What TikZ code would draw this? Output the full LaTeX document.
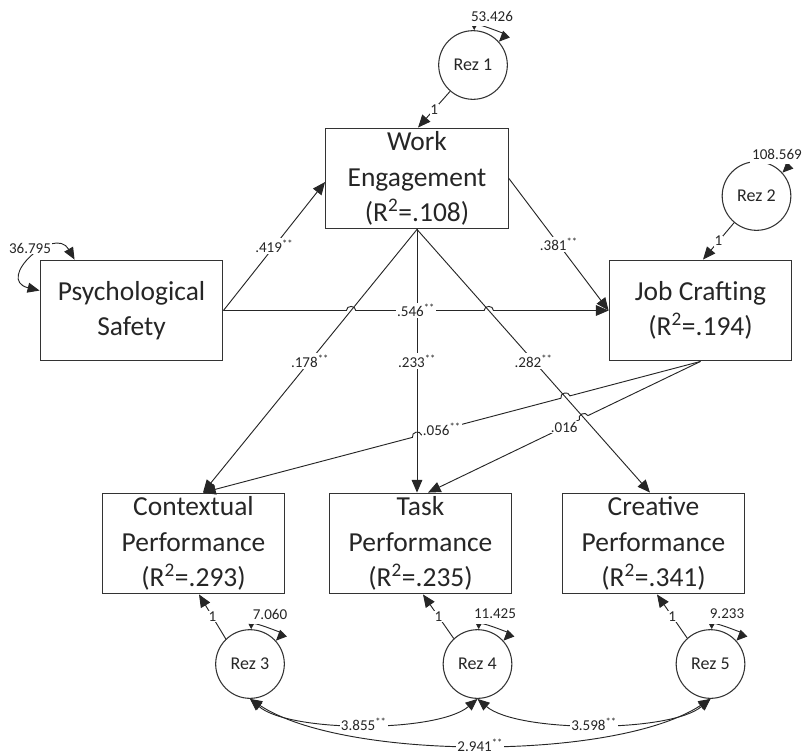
\documentclass[tikz,border=0pt]{standalone}
\usepackage{fontspec}
\setmainfont{Carlito}
\usetikzlibrary{arrows.meta,calc,intersections}
\begin{document}
\begin{tikzpicture}[x=0.75pt,y=-0.75pt,
  ln/.style={draw=black!85, line width=0.7pt},
  arr/.style={ln, -{Triangle[length=9.5pt,width=8pt]}},
  darr/.style={ln, {Triangle[length=9pt,width=7.5pt]}-{Triangle[length=9pt,width=7.5pt]}},
  varr/.style={ln, {Triangle[length=4pt,width=4pt]}-{Triangle[length=8pt,width=7pt]}},
  box/.style={draw=black!80, line width=0.9pt, minimum width=137pt, minimum height=75.5pt, inner sep=0pt, align=center, text=black!85, font=\fontsize{20.6}{26.6}\selectfont},
  rez/.style={circle, draw=black!80, line width=0.8pt, minimum size=51.5pt, inner sep=0pt, text=black!85, font=\fontsize{13.5}{15}\selectfont},
  lab/.style={fill=white, inner sep=1pt, text=black!85, font=\fontsize{11.3}{12}\selectfont},
  vlab/.style={lab, inner xsep=2pt, inner ysep=3.5pt},
  one/.style={fill=white, inner sep=0.5pt, text=black!85, font=\fontsize{11.3}{12}\selectfont}
]
\useasboundingbox (0,0) rectangle (802,754);

% boxes
\node[box] (we) at (417,178.5) {Work\\Engagement\\(R\textsuperscript{2}=.108)};
\node[box] (ps) at (131.5,310.5) {Psychological\\Safety};
\node[box] (jc) at (700.5,310.5) {Job Crafting\\(R\textsuperscript{2}=.194)};
\node[box] (cp) at (193.5,543.5) {Contextual\\Performance\\(R\textsuperscript{2}=.293)};
\node[box] (tp) at (420.5,543.5) {Task\\Performance\\(R\textsuperscript{2}=.235)};
\node[box] (crp) at (653.5,543.5) {Creative\\Performance\\(R\textsuperscript{2}=.341)};

% residuals
\node[rez] (r1) at (473,65) {Rez 1};
\node[rez] (r2) at (756.5,196) {Rez 2};
\node[rez] (r3) at (250,664) {Rez 3};
\node[rez] (r4) at (477.5,664) {Rez 4};
\node[rez] (r5) at (710.5,664) {Rez 5};

% anchor points
\coordinate (weS) at (we.south);
\coordinate (weL) at ($(we.west)+(0,3.5)$);
\coordinate (cpT) at ($(cp.north)+(9.5,0)$);
\coordinate (tpT1) at ($(tp.north)+(-3.5,0)$);
\coordinate (tpT2) at ($(tp.north)+(7.5,0)$);
\coordinate (crT) at ($(crp.north)+(-3.5,0)$);
\coordinate (jcB) at (jc.south);

% crossing points
\path[name path=pWEcp] (weS) -- (cpT);
\path[name path=pWEtp] (weS) -- (tpT1);
\path[name path=pWEcr] (weS) -- (crT);
\path[name path=pPSjc] (ps.east) -- (jc.west);
\path[name path=pJCcp] (jcB) -- (cpT);
\path[name path=pJCtp] (jcB) -- (tpT2);
\path[name intersections={of=pPSjc and pWEcp, by=h1}];
\path[name intersections={of=pPSjc and pWEcr, by=h2}];
\path[name intersections={of=pJCcp and pWEcr, by=h3}];
\path[name intersections={of=pJCcp and pWEtp, by=h4}];
\path[name intersections={of=pJCtp and pWEcr, by=h5}];

% straight paths
\draw[arr] (ps.east) -- (weL);
\draw[arr] (we.east) -- (jc.west);
\draw[arr] (weS) -- (cpT);
\draw[arr] (weS) -- (tpT1);
\draw[arr] (weS) -- (crT);

% paths with hops
\draw[arr] (ps.east) -- ($(h1)!3.5pt!(ps.east)$) to[bend left=90,looseness=1.5] ($(h1)!3.5pt!(jc.west)$)
  -- ($(h2)!3.5pt!(ps.east)$) to[bend left=90,looseness=1.5] ($(h2)!3.5pt!(jc.west)$) -- (jc.west);
\draw[arr] (jcB) -- ($(h3)!3.5pt!(jcB)$) to[bend right=90,looseness=1.5] ($(h3)!3.5pt!(cpT)$)
  -- ($(h4)!3.5pt!(jcB)$) to[bend right=90,looseness=1.5] ($(h4)!3.5pt!(cpT)$) -- (cpT);
\draw[arr] (jcB) -- ($(h5)!3.5pt!(jcB)$) to[bend right=90,looseness=1.5] ($(h5)!3.5pt!(tpT2)$) -- (tpT2);

% path labels
\node[lab] (l1) at ($(ps.east)!0.5!(weL)$) {.419\textsuperscript{**}};
\node[lab] (l2) at ($(we.east)!0.5!(jc.west)$) {.381\textsuperscript{**}};
\node[lab] (l3) at ($(ps.east)!0.5!(jc.west)$) {.546\textsuperscript{**}};
\node[lab] (l4) at ($(weS)!0.5!(cpT)$) {.178\textsuperscript{**}};
\node[lab] (l5) at ($(weS)!0.5!(tpT1)$) {.233\textsuperscript{**}};
\node[lab] (l6) at ($(weS)!0.5!(crT)$) {.282\textsuperscript{**}};
\node[lab] (l7) at ($(jcB)!0.52!(cpT)$) {.056\textsuperscript{**}};
\node[lab] (l8) at ($(jcB)!0.5!(tpT2)$) {.016};

% residual loadings
\coordinate (t1) at ($(we.north)+(1,0)$);
\coordinate (t2) at ($(jc.north)+(2.5,0)$);
\coordinate (t3) at ($(cp.south)+(5.5,0)$);
\coordinate (t4) at ($(tp.south)+(2.5,0)$);
\coordinate (t5) at ($(crp.south)+(3.5,0)$);
\draw[arr] (r1.229) -- (t1);
\draw[arr] (r2.230) -- (t2);
\draw[arr] (r3.134) -- (t3);
\draw[arr] (r4.133) -- (t4);
\draw[arr] (r5.132) -- (t5);
\node[one] (o1) at ($(r1.229)!0.5!(t1)$) {1};
\node[one] (o2) at ($(r2.230)!0.5!(t2)$) {1};
\node[one] (o3) at ($(r3.134)!0.5!(t3)$) {1};
\node[one] (o4) at ($(r4.133)!0.5!(t4)$) {1};
\node[one] (o5) at ($(r5.132)!0.5!(t5)$) {1};

% residual variances
\foreach \r in {r1,r2,r3,r4,r5}{
  \draw[varr] (\r.88) .. controls +(0,-9) and +(7,-7) .. (\r.42);
}
\node[vlab] (v1) at (492,16) {53.426};
\node[vlab] (v2) at (777,154) {108.569};
\node[vlab] (v3) at (270,614) {7.060};
\node[vlab] (v4) at (495,614) {11.425};
\node[vlab] (v5) at (727,614) {9.233};

% variance of psychological safety
\draw[darr] ($(ps.north west)+(0,31)$) .. controls +(-45,-11) and +(-20,-35) .. ($(ps.north west)+(35,0)$);
\node[lab] (v0) at (30,248) {36.795};

% covariances
\draw[darr] (r3.south) .. controls +(40,34) and +(-40,34) .. (r4.south) node[lab,pos=0.5] (c34) {3.855\textsuperscript{**}};
\draw[darr] (r4.south) .. controls +(40,34) and +(-40,34) .. (r5.south) node[lab,pos=0.5] (c45) {3.598\textsuperscript{**}};
\draw[darr] (r3.south) .. controls +(94,62) and +(-94,62) .. (r5.south) node[lab,pos=0.5,inner ysep=0.5pt] (c35) {2.941\textsuperscript{**}};
\end{tikzpicture}
\end{document}
